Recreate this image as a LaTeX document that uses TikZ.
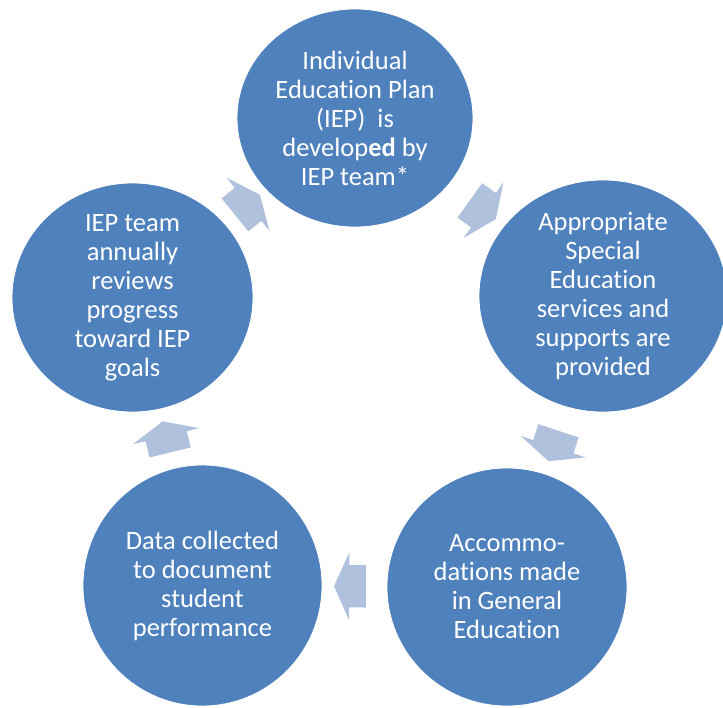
\documentclass[tikz,border=0pt]{standalone}
\usepackage{fontspec}
\setmainfont{Carlito}[Ligatures=NoCommon]
\usetikzlibrary{shapes.geometric,shapes.arrows}
\definecolor{stageblue}{HTML}{4F81BD}
\definecolor{flowblue}{HTML}{B0C1DE}
\tikzset{
  stage/.style={ellipse, fill=stageblue, draw=white, line width=0.8pt, inner sep=0pt},
  caption/.style={text=white, align=center, inner sep=0pt, font=\fontsize{26.5}{29}\selectfont},
  flow/.style={single arrow, fill=flowblue, draw=none, inner xsep=0pt, inner ysep=21pt,
    minimum height=32pt, single arrow head extend=13pt,
    single arrow tip angle=132, sloped, allow upside down}
}
\begin{document}
\begin{tikzpicture}[x=1pt,y=-1pt]
    \useasboundingbox (0,0) rectangle (723,707);
    \node[stage, minimum width=236pt, minimum height=218pt,
      label={[caption]center:{Individual\\Education Plan\\(IEP)\ \ is\\develop\textbf{ed} by\\IEP team*}}] (iep) at (355,118) {};
    \node[stage, minimum width=248pt, minimum height=232pt,
      label={[caption]center:{Appropriate\\Special\\Education\\services and\\supports are\\provided}}] (services) at (603,296) {};
    \node[stage, minimum width=240pt, minimum height=238pt,
      label={[caption]center:{Accommo-\\dations made\\in General\\Education}}] (accom) at (507,587) {};
    \node[stage, minimum width=239pt, minimum height=241pt,
      label={[caption]center:{Data collected\\to document\\student\\performance}}] (data) at (202.5,585.5) {};
    \node[stage, minimum width=241pt, minimum height=229pt,
      label={[caption]center:{IEP team\\annually\\reviews\\progress\\toward IEP\\goals}}] (review) at (132.5,297.5) {};
    \foreach \a/\b in {iep/services, services/accom, accom/data, data/review, review/iep}
      \path (\a.center) -- node[flow] {} (\b.center);
\end{tikzpicture}
\end{document}
